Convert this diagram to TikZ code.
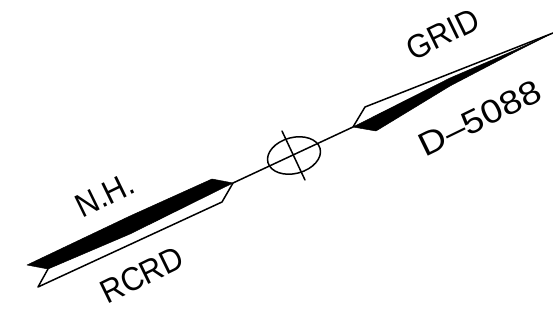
\documentclass[tikz,border=0pt]{standalone}
\usepackage{fontspec}
\setmainfont{Liberation Sans}
\newfontfamily\widesans[FakeStretch=1.14]{Liberation Sans}
\newfontfamily\narrowsans[FakeStretch=0.93]{Liberation Sans}
\tikzset{
  lbl/.style={inner sep=0pt,font=\narrowsans\fontsize{33}{33}\selectfont,rotate=26},
  wlbl/.style={inner sep=0pt,font=\widesans\fontsize{33}{33}\selectfont,rotate=26},
  wire/.style={line width=1.5pt,line join=round,line cap=round},
  fillblk/.style={fill=black,draw=black,line width=0.5pt,line join=round}
}
\begin{document}
\begin{tikzpicture}[x=1pt,y=-1pt]
\useasboundingbox (0,0) rectangle (553,323);
\coordinate (lj) at (233,183);
\coordinate (rj) at (353,127);
\coordinate (ltip) at (27,265);
\coordinate (ltop) at (212,179);
\coordinate (lnotch) at (48,269);
\coordinate (lbot) at (38,287);
\coordinate (lbr) at (222,202);
\coordinate (rtip) at (553,33);
\coordinate (rup) at (365,107);
\coordinate (rblk) at (376,131);
% left feather
\fill[fillblk] (ltip) -- (130,216) -- (ltop) -- (lj) -- (130,234) -- (lnotch) -- cycle;
\draw[wire] (lnotch) -- (lbot) -- (lbr) -- (lj);
% right feather
\fill[fillblk] (rj) -- (450,78) -- (513,51) -- (rtip) -- (517,51) -- (450,86) -- (rblk) -- cycle;
\draw[wire] (rj) -- (rup) -- (rtip);
% shaft and ellipse
\draw[wire] (lj) -- (rj);
\draw[wire,rotate around={15:(294,155.5)}] (294,155.5) ellipse (27 and 18);
\coordinate (ca) at (282,131);
\coordinate (cb) at (305,180);
\draw[wire] (ca) -- (cb);
% labels
\node[lbl] (nh) at (105,195) {N.H.};
\node[lbl] (rcrd) at (142,275) {RCRD};
\node[lbl] (grid) at (443,34) {GRID};
\node[wlbl] (dnum) at (480,118) {D–5088};
\end{tikzpicture}
\end{document}
